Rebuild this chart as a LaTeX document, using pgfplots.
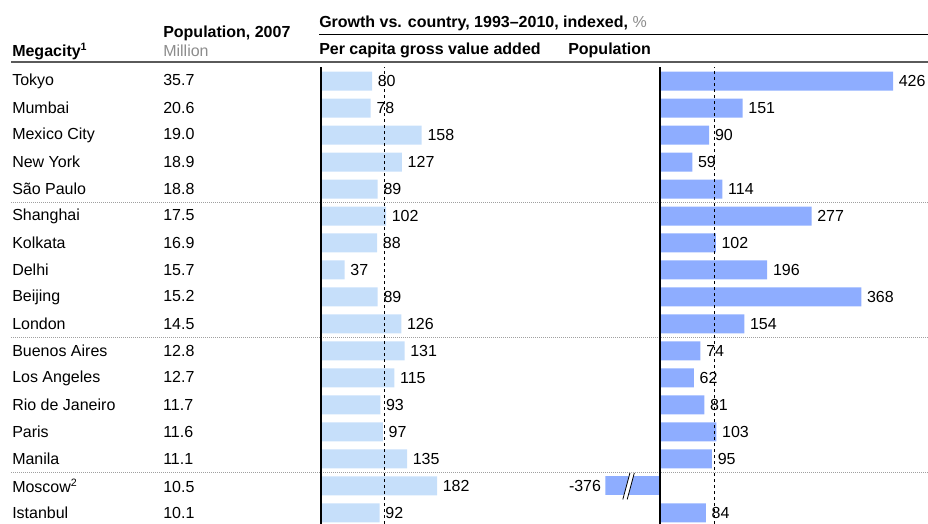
\documentclass[border=0pt]{standalone}
\usepackage{pgfplots}
\pgfplotsset{compat=1.18}
\usepackage{pgfplotstable}
\usepackage{fontspec}
\setmainfont{Liberation Sans}
\definecolor{gvabar}{HTML}{C6DFFA}
\definecolor{popbar}{HTML}{8EADFF}
\definecolor{hdrgray}{HTML}{8C8C8C}
\definecolor{rulegray}{HTML}{5A5A5A}
\definecolor{sepgray}{HTML}{A0A0A0}

% y = 16 - row index (Tokyo at top)
\pgfplotstableread{
y gva pop
16 80 426
15 78 151
14 158 90
13 127 59
12 89 114
11 102 277
10 88 102
9 37 196
8 89 368
7 126 154
6 131 74
5 115 62
4 93 81
3 97 103
2 135 95
1 182 -376
0 92 84
}\rows

\newcommand{\fnt}{\fontsize{12}{14.4}\selectfont}
\newcommand{\rl}[2]{\makebox[113.25pt][l]{#1}#2}

\begin{document}
\begin{tikzpicture}[font=\fnt]
\path[use as bounding box] (0,0) rectangle (696pt,-393pt);

\begin{scope}[x=0.75pt,y=-0.75pt]
  \node[anchor=base west,inner sep=0pt,font=\fnt\bfseries] at (12,56.5) {Megacity\textsuperscript{1}};
  \node[anchor=base west,inner sep=0pt,font=\fnt\bfseries] at (163,37.5) {Population, 2007};
  \node[anchor=base west,inner sep=0pt,text=hdrgray] at (163,56.5) {Million};
  \node[anchor=base west,inner sep=0pt] at (319,27.5) {\textbf{Growth vs. country, 1993–2010, indexed,} \textcolor{hdrgray}{\%}};
  \draw[black,line width=0.75pt] (319,35) -- (928,35);
  \node[anchor=base west,inner sep=0pt,font=\fnt\bfseries] at (319,54.5) {Per capita gross value added};
  \node[anchor=base west,inner sep=0pt,font=\fnt\bfseries] at (568,54.5) {Population};
  \draw[rulegray,line width=1.5pt] (11,62.5) -- (928,62.5);
  \foreach \yy in {202.5,337.5,472.5}{
    \draw[sepgray,line width=0.6pt,dash pattern=on 0.75pt off 0.75pt] (11,\yy) -- (928,\yy);
  }
\end{scope}

% Left panel: per capita GVA
\begin{axis}[
  at={(240.75pt,-393pt)}, anchor=south west,
  scale only axis, width=95.625pt, height=342.75pt,
  xmin=0, xmax=200, ymin=-0.41, ymax=16.52,
  enlargelimits=false, clip=false,
  axis line style={draw=none}, tick style={draw=none}, major tick length=0pt,
  xtick=\empty,
  ytick={0,...,16},
  yticklabels={\rl{Istanbul}{10.1},\rl{Moscow\textsuperscript{2}}{10.5},\rl{Manila}{11.1},\rl{Paris}{11.6},\rl{Rio de Janeiro}{11.7},\rl{Los Angeles}{12.7},\rl{Buenos Aires}{12.8},\rl{London}{14.5},\rl{Beijing}{15.2},\rl{Delhi}{15.7},\rl{Kolkata}{16.9},\rl{Shanghai}{17.5},\rl{São Paulo}{18.8},\rl{New York}{18.9},\rl{Mexico City}{19.0},\rl{Mumbai}{20.6},\rl{Tokyo}{35.7}},
  yticklabel style={anchor=west, inner sep=0pt, xshift=-231.75pt, font=\fnt},
  /pgf/number format/assume math mode=true,
  point meta=x,
  nodes near coords,
  every node near coord/.append style={font=\fnt, anchor=west, xshift=0.8pt},
]
\addplot[xbar, bar width=14.25pt, bar shift=0pt, fill=gvabar, draw=none] table[x=gva,y=y] {\rows};
\draw[black,line width=2.2pt] (axis cs:0,-0.41) -- (axis cs:0,16.52);
\draw[black,line width=0.7pt,dash pattern=on 2.6pt off 1.9pt] (axis cs:100,-0.41) -- (axis cs:100,16.52);
\end{axis}

% Right panel: population
\begin{axis}[
  at={(453.98pt,-393pt)}, anchor=south west,
  scale only axis, width=242.05pt, height=342.75pt,
  xmin=-100, xmax=490, ymin=-0.41, ymax=16.52,
  enlargelimits=false, clip=true,
  axis line style={draw=none}, tick style={draw=none}, major tick length=0pt,
  xtick=\empty, ytick=\empty,
  /pgf/number format/assume math mode=true,
  point meta=x,
]
\addplot[xbar, bar width=14.25pt, bar shift=0pt, fill=popbar, draw=none,
  restrict x to domain=0:1000,
  nodes near coords,
  every node near coord/.append style={font=\fnt, anchor=west, xshift=0.8pt}]
  table[x=pop,y=y] {\rows};
\addplot[xbar, bar width=14.25pt, bar shift=0pt, fill=popbar, draw=none,
  restrict x to domain=-1000:0]
  table[x=pop,y=y] {\rows};
% axis break marks on the clipped Moscow bar
\fill[white] (axis cs:-68,0.5) -- (axis cs:-55,1.48) -- (axis cs:-47,1.48) -- (axis cs:-60,0.5) -- cycle;
\draw[black,line width=0.6pt] (axis cs:-68,0.5) -- (axis cs:-55,1.48);
\draw[black,line width=0.6pt] (axis cs:-60,0.5) -- (axis cs:-47,1.48);
\draw[black,line width=2.2pt] (axis cs:0,-0.41) -- (axis cs:0,16.52);
\draw[black,line width=0.7pt,dash pattern=on 2.6pt off 1.9pt] (axis cs:100,-0.41) -- (axis cs:100,16.52);
\end{axis}

% label of the clipped Moscow value, set left of the break
\begin{axis}[
  at={(453.98pt,-393pt)}, anchor=south west,
  scale only axis, width=242.05pt, height=342.75pt,
  xmin=-100, xmax=490, ymin=-0.41, ymax=16.52,
  enlargelimits=false, clip=false, hide axis,
]
\node[anchor=east, font=\fnt, inner sep=3pt] at (axis cs:-100,1) {-376};
\end{axis}
\end{tikzpicture}
\end{document}
